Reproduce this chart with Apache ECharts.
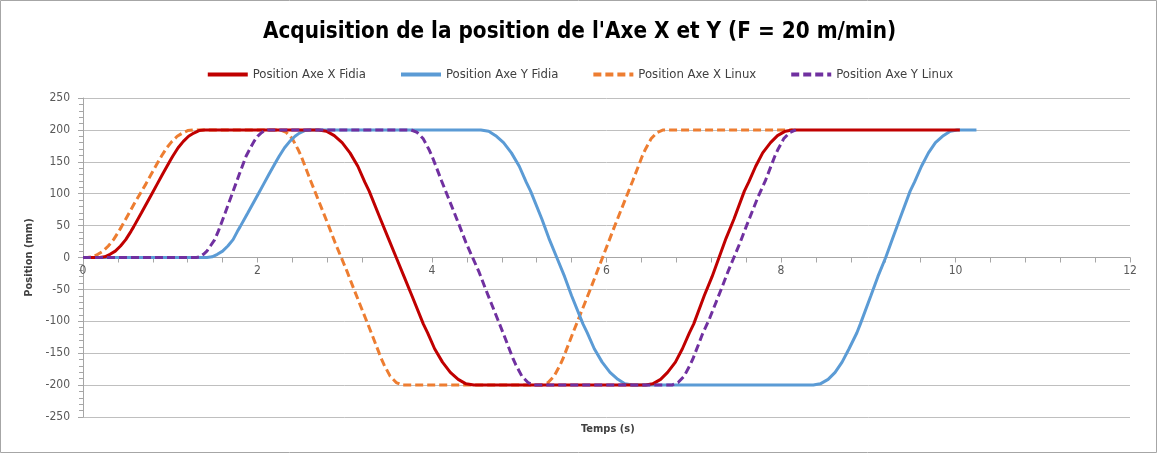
<!DOCTYPE html>
<html>
<head>
<meta charset="utf-8">
<script src="https://cdn.jsdelivr.net/npm/echarts@6/dist/echarts.min.js"></script>
<style>
html,body{margin:0;padding:0;background:#fff;}
#c{width:1159px;height:454px;}
</style>
</head>
<body>
<div id="c"></div>
<script>
// ---- Data (time in s, position in mm) ----
const seriesNames = ['Position Axe X Fidia', 'Position Axe Y Fidia', 'Position Axe X Linux', 'Position Axe Y Linux'];
const xTicks = [0, 2, 4, 6, 8, 10, 12];
const yTicks = [-250, -200, -150, -100, -50, 0, 50, 100, 150, 200, 250];

const xFidia = [
  [0,0],[0.19,0],[0.25,1],[0.31,5],[0.37,10],[0.43,18],[0.49,28],[0.55,41],[0.58,48],[0.67,70],[0.73,85],[0.79,100],[0.85,115],[0.91,130],[1.0,152],[1.03,159],[1.09,172],[1.15,182],[1.21,190],[1.27,195],[1.33,199],[1.39,200],
  [2.7,200],[2.79,198],[2.88,191],[2.97,180],[3.06,164],[3.15,143],[3.23,118],[3.28,104],[3.41,60],[3.5,30],[3.59,0],[3.68,-30],[3.77,-60],[3.9,-104],[3.95,-118],[4.03,-143],[4.12,-164],[4.21,-180],[4.3,-191],[4.39,-198],[4.48,-200],
  [6.45,-200],[6.53,-198],[6.62,-191],[6.7,-180],[6.79,-164],[6.87,-143],[6.95,-118],[7.0,-104],[7.12,-60],[7.21,-30],[7.29,0],[7.37,30],[7.46,60],[7.58,104],[7.63,118],[7.71,143],[7.79,164],[7.88,180],[7.96,191],[8.05,198],[8.13,200],
  [10.05,200]
];

const yFidia = [
  [0,0],[1.42,0],[1.48,1],[1.54,5],[1.6,10],[1.66,18],[1.72,28],[1.77,41],[1.8,48],[1.89,70],[1.95,85],[2.01,100],[2.07,115],[2.13,130],[2.22,152],[2.25,159],[2.31,172],[2.37,182],[2.43,190],[2.48,195],[2.54,199],[2.6,200],
  [4.56,200],[4.65,198],[4.73,191],[4.82,180],[4.91,164],[5.0,143],[5.08,118],[5.13,104],[5.26,60],[5.34,30],[5.43,0],[5.52,-30],[5.6,-60],[5.73,-104],[5.78,-118],[5.86,-143],[5.95,-164],[6.04,-180],[6.13,-191],[6.21,-198],[6.3,-200],
  [8.37,-200],[8.45,-198],[8.54,-191],[8.62,-180],[8.7,-164],[8.78,-143],[8.87,-118],[8.91,-104],[9.03,-60],[9.11,-30],[9.2,0],[9.28,30],[9.36,60],[9.48,104],[9.53,118],[9.61,143],[9.69,164],[9.77,180],[9.86,191],[9.94,198],[10.02,200],
  [10.24,200]
];

const xLinux = [
  [0,0],[0.05,0],[0.11,1],[0.17,5],[0.23,10],[0.29,18],[0.35,28],[0.41,41],[0.44,48],[0.53,70],[0.59,85],[0.655,100],[0.72,115],[0.78,130],[0.87,152],[0.9,159],[0.96,172],[1.02,182],[1.08,190],[1.14,195],[1.2,199],[1.26,200],
  [2.26,200],[2.33,196],[2.4,186],[2.47,168],[2.5,159],[2.61,120],[2.68,96],[2.75,72],[2.82,48],[2.89,23],[2.96,0],[3.03,-23],[3.1,-48],[3.17,-72],[3.24,-96],[3.31,-120],[3.42,-159],[3.45,-168],[3.52,-186],[3.59,-196],[3.66,-200],
  [5.26,-200],[5.33,-196],[5.4,-186],[5.47,-168],[5.5,-159],[5.61,-120],[5.68,-96],[5.75,-72],[5.82,-48],[5.89,-23],[5.955,0],[6.02,23],[6.09,48],[6.16,72],[6.23,96],[6.3,120],[6.41,159],[6.44,168],[6.51,186],[6.58,196],[6.65,200],
  [8.13,200]
];

const yLinux = [
  [0,0],[1.3,0],[1.34,1],[1.38,5],[1.42,10],[1.46,18],[1.51,28],[1.55,41],[1.57,48],[1.63,70],[1.67,85],[1.71,100],[1.75,115],[1.79,130],[1.85,152],[1.87,159],[1.92,172],[1.96,182],[2.0,190],[2.04,195],[2.08,199],[2.12,200],
  [3.76,200],[3.83,196],[3.9,186],[3.97,168],[4.0,159],[4.11,120],[4.18,96],[4.25,72],[4.32,48],[4.39,23],[4.465,0],[4.54,-23],[4.61,-48],[4.68,-72],[4.75,-96],[4.82,-120],[4.93,-159],[4.96,-168],[5.03,-186],[5.1,-196],[5.17,-200],
  [6.75,-200],[6.82,-196],[6.89,-186],[6.96,-168],[6.99,-159],[7.1,-120],[7.18,-96],[7.25,-72],[7.32,-48],[7.39,-23],[7.46,0],[7.53,23],[7.6,48],[7.67,72],[7.74,96],[7.82,120],[7.93,159],[7.96,168],[8.03,186],[8.1,196],[8.17,200]
];

const seriesData = [xFidia, yFidia, xLinux, yLinux];
const colors = ['#C00000', '#5B9BD5', '#ED7D31', '#7030A0'];
const dashed = [false, false, true, true];

const FONT = "'Liberation Sans Narrow','DejaVu Sans Condensed','Liberation Sans',sans-serif";

const chart = echarts.init(document.getElementById('c'), null, {renderer: 'canvas'});
chart.setOption({
  animation: false,
  backgroundColor: '#fff',
  title: {
    text: "Acquisition de la position de l'Axe X et Y (F = 20 m/min)",
    left: 'center', top: 16,
    textStyle: {fontFamily: FONT, fontSize: 22.3, fontWeight: 'bold', color: '#000'}
  },
  legend: {
    top: 63, left: 'center',
    itemWidth: 40, itemHeight: 8, itemGap: 33,
    itemStyle: {opacity: 0},
    lineStyle: {width: 4},
    textStyle: {fontFamily: FONT, fontSize: 13, color: '#404040'},
    data: seriesNames
  },
  grid: {left: 83, right: 29, top: 98, bottom: 37},
  xAxis: {
    type: 'value', min: xTicks[0], max: xTicks[xTicks.length - 1], interval: 2,
    offset: -159.5,
    axisLine: {onZero: false, lineStyle: {color: '#a6a6a6', width: 1}},
    axisTick: {show: true, length: 5, lineStyle: {color: '#a6a6a6'}},
    minorTick: {show: true, splitNumber: 5, length: 5, lineStyle: {color: '#a6a6a6'}},
    axisLabel: {fontFamily: FONT, fontSize: 12, color: '#595959', margin: 7},
    splitLine: {show: false}
  },
  yAxis: {
    type: 'value', min: yTicks[0], max: yTicks[yTicks.length - 1], interval: 50,
    name: 'Position (mm)', nameLocation: 'middle', nameGap: 46, nameRotate: 90,
    nameTextStyle: {fontFamily: FONT, fontSize: 11, fontWeight: 'bold', color: '#404040'},
    axisLine: {show: true, lineStyle: {color: '#a6a6a6', width: 1}},
    axisTick: {show: true, length: 5, lineStyle: {color: '#a6a6a6'}},
    minorTick: {show: true, splitNumber: 5, length: 4, lineStyle: {color: '#a6a6a6'}},
    axisLabel: {fontFamily: FONT, fontSize: 12, color: '#595959', margin: 13},
    splitLine: {show: true, lineStyle: {color: '#bfbfbf', width: 1}}
  },
  graphic: [
    {type: 'rect', shape: {x: 0.5, y: 0.5, width: 1156, height: 452}, style: {fill: 'none', stroke: '#a6a6a6', lineWidth: 1}, silent: true},
    {type: 'text', left: 581, top: 424, style: {text: 'Temps (s)', font: "bold 11px " + FONT, fill: '#404040'}}
  ],
  series: seriesNames.map((n, i) => ({
    name: n, type: 'line', data: seriesData[i],
    showSymbol: false, symbol: 'none',
    smooth: false,
    lineStyle: {color: colors[i], width: 3, type: dashed[i] ? [8, 4] : 'solid'},
    itemStyle: {color: colors[i]},
    z: [4, 3, 2, 5][i]
  }))
});
</script>
</body>
</html>
